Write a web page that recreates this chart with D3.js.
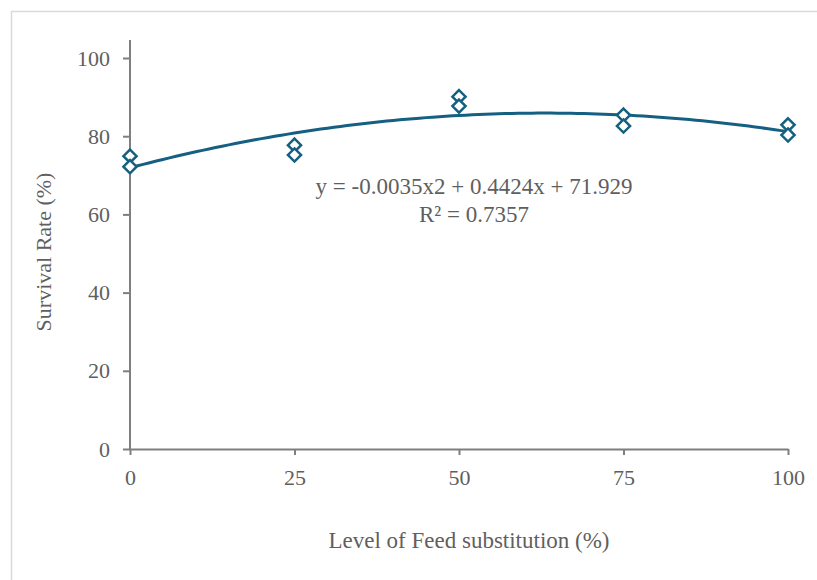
<!doctype html>
<html lang="en">
  <head>
    <meta charset="utf-8">
    <title>Survival Rate</title>
    <script src="https://d3js.org/d3.v7.min.js"></script>
    <style>
      body { margin: 0; background: #fff; }
      text { font-family: "Liberation Serif", "Times New Roman", serif; fill: #5f5f5f; }
    </style>
  </head>
  <body>
    <div id="chart"></div>
    <script>

      // data
      const levels = [0, 0, 25, 25, 50, 50, 75, 75, 100, 100];
      const survival = [74.9, 72.2, 77.7, 75.2, 90.1, 87.7, 85.4, 82.6, 82.9, 80.3];
      const xTicks = [0, 25, 50, 75, 100];
      const yTicks = [0, 20, 40, 60, 80, 100];
      // trendline coefficients as printed on the chart (a, b, c)
      const trendCoef = [-0.0035, 0.4424, 71.929];
      const trendLabel = ["y = -0.0035x2 + 0.4424x + 71.929", "R\u00b2 = 0.7357"];

      const W = 817, H = 580;
      const margin = {top: 58, right: 29, bottom: 131, left: 130},
          width = W - margin.left - margin.right,
          height = H - margin.top - margin.bottom;

      const root = d3.select("#chart")
        .append("svg")
          .attr("width", W)
          .attr("height", H);

      // light frame round the chart area
      root.append("rect")
        .attr("x", 11.5).attr("y", 11.5)
        .attr("width", 830).attr("height", 620)
        .attr("fill", "none")
        .attr("stroke", "#d9d9d9")
        .attr("stroke-width", 1.5);

      const svg = root.append("g")
        .attr("transform", `translate(${margin.left},${margin.top})`);

      const x = d3.scaleLinear().domain([0, 100]).range([0, width]);
      const y = d3.scaleLinear().domain([0, 100]).range([height, 0]);

      // X axis
      const gx = svg.append("g")
        .attr("transform", `translate(0, ${height})`)
        .call(d3.axisBottom(x).tickValues(xTicks).tickSize(6).tickPadding(14).tickSizeOuter(0));
      gx.select(".domain").attr("stroke", "#7f7f7f").attr("stroke-width", 2);
      gx.selectAll(".tick line").attr("stroke", "#7f7f7f").attr("stroke-width", 2);
      gx.selectAll("text").style("font-size", "22px").attr("fill", "#5f5f5f");

      // Y axis
      const gy = svg.append("g")
        .call(d3.axisLeft(y).tickValues(yTicks).tickSize(7).tickPadding(13).tickSizeOuter(0));
      gy.select(".domain").attr("stroke", "#7f7f7f").attr("stroke-width", 2)
        .attr("d", `M0,${height + 1}V${y(100) - 18}`);
      gy.selectAll(".tick line").attr("stroke", "#7f7f7f").attr("stroke-width", 2);
      gy.selectAll("text").style("font-size", "22px").attr("fill", "#5f5f5f");

      // trendline
      const trendPts = d3.range(0, 100.5, 1).map(v => [v, trendCoef[0] * v * v + trendCoef[1] * v + trendCoef[2]]);
      svg.append("path")
        .datum(trendPts)
        .attr("fill", "none")
        .attr("stroke", "#156082")
        .attr("stroke-width", 3)
        .attr("d", d3.line().x(d => x(d[0])).y(d => y(d[1])));

      // diamonds
      const diamond = d3.symbol().type(d3.symbolDiamond2).size(110);
      svg.selectAll("path.pt")
        .data(levels.map((l, i) => [l, survival[i]]))
        .enter()
        .append("path")
          .attr("class", "pt")
          .attr("d", diamond)
          .attr("transform", d => `translate(${x(d[0])},${y(d[1])})`)
          .attr("fill", "#fff")
          .attr("stroke", "#156082")
          .attr("stroke-width", 2.5);

      // equation label
      svg.append("text")
        .attr("x", 474 - margin.left).attr("y", 194 - margin.top)
        .attr("text-anchor", "middle")
        .style("font-size", "23px")
        .text(trendLabel[0]);
      svg.append("text")
        .attr("x", 474 - margin.left).attr("y", 222 - margin.top)
        .attr("text-anchor", "middle")
        .style("font-size", "23px")
        .text(trendLabel[1]);

      // axis titles
      root.append("text")
        .attr("x", 469).attr("y", 548)
        .attr("text-anchor", "middle")
        .style("font-size", "23px")
        .text("Level of Feed substitution (%)");
      root.append("text")
        .attr("transform", "translate(51,252) rotate(-90)")
        .attr("text-anchor", "middle")
        .style("font-size", "22px")
        .text("Survival Rate (%)");

    </script>
  </body>
</html>
